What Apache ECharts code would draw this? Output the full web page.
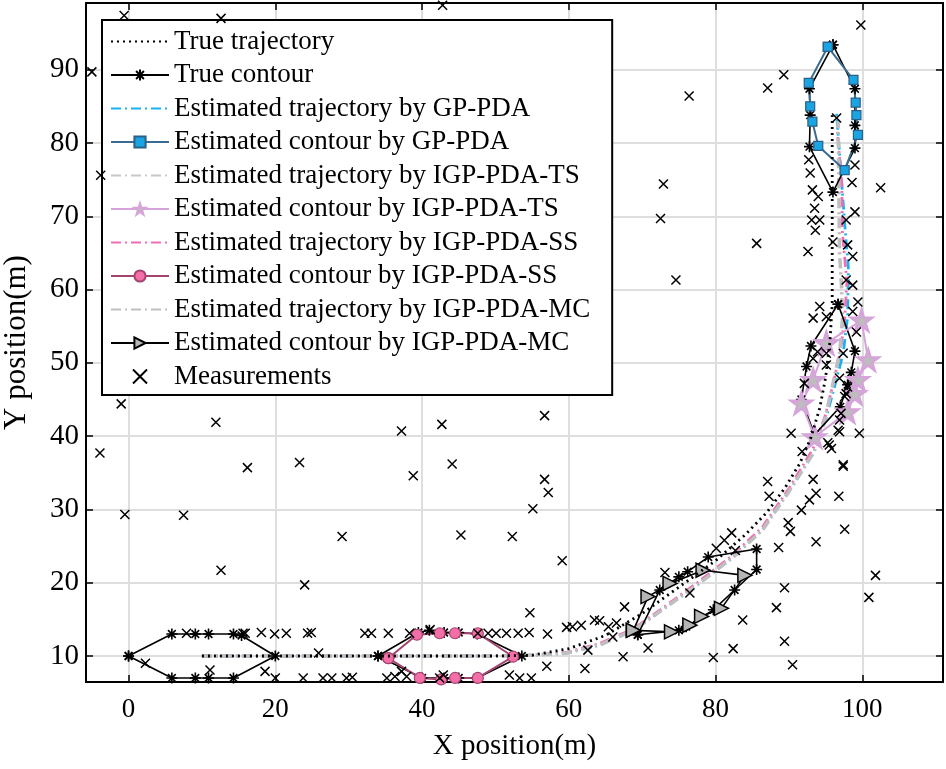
<!DOCTYPE html>
<html><head><meta charset="utf-8">
<script src="https://cdn.jsdelivr.net/npm/echarts@6/dist/echarts.min.js"></script>
<style>html,body{margin:0;padding:0;background:#fff}#c{width:946px;height:769px}</style>
</head><body><div id="c"></div>
<script>
// ---- data ----
const trueTrajectory = [[10,10],[20,10],[30,10],[40,10],[50,10],[55,10.1],[60,11],[65,12.8],[70,15.8],[75,19.4],[80,23],[84,26.5],[87,29.6],[89.5,33],[91.5,36.3],[93,39.8],[94.2,43.8],[95,48],[95.6,53],[95.9,58],[95.9,70],[95.9,83.8]];
const trajGP = [[10,10],[20,10],[30,10],[40,10],[50,10],[55,10.1],[59.7,10.4],[64.2,11.5],[68.8,13.5],[73.3,16.7],[77.9,20],[82.4,23.5],[86.4,27.2],[90.1,32.6],[93.4,37.8],[95,42.2],[96.2,46.7],[97.4,51.3],[98,56.3],[98.1,63],[97.6,69],[97.2,74.5],[96.5,84]];
const trajTS = [[10,10],[20,10],[30,10],[40,10],[50,10],[55,10.1],[59.7,10.4],[64.2,11.5],[68.8,13.5],[73.3,16.7],[77.9,20],[82.4,23.5],[86.4,27.2],[90.1,32.6],[93.4,37.8],[94.9,42.2],[95.9,46.7],[96.9,51.3],[97.2,55.8],[97.1,60],[96.9,65],[96.8,75],[96.8,83]];
const trajSS = [[10,10],[20,10],[30,10],[40,10],[50,10],[55,10.1],[59.7,10.5],[64.2,11.7],[68.8,13.7],[73.3,16.9],[77.9,20.3],[82.4,23.8],[86.4,27.6],[90.1,33],[93.3,38.3],[94.9,42.6],[96,47],[97,51.5],[97.6,56],[97.9,61],[97.3,67.7],[97.2,74.5],[96.6,81.5]];
const trajMC = [[10,10],[20,10],[30,10],[40,10],[50,10],[55,10.1],[59.7,10.4],[64.2,11.5],[68.8,13.5],[73.3,16.7],[77.9,20],[82.4,23.5],[86.4,27.2],[90.1,32.6],[93.4,37.8],[94.9,42.2],[95.9,46.7],[96.9,51.3],[97.3,55.8],[97.2,60],[96.9,65],[96.8,75],[96.7,83]];

const trueContour1 = [[0,10],[5.9,13],[9.1,13],[10.9,13],[14.3,13],[15.4,12.8],[20,10],[14.3,7],[10.9,7],[9.1,7],[5.9,7],[0,10]];
const trueContour2 = [[34,10],[39.5,13.2],[41,13.5],[43,13.2],[45,13.2],[47.5,13],[53.6,10],[47.5,7],[45,7],[43,7],[40,7],[34,10]];
const trueContour3 = [[69.4,12.9],[72.4,19],[75,20.8],[76.2,21.5],[79,23.5],[85.6,24.6],[85.6,21.8],[82.6,19],[79.7,16.3],[76,14],[75,13.5],[69.4,12.9]];
const trueContour4 = [[96.7,58],[99,51.6],[98.5,48.7],[98,47],[97,44],[93.5,40.2],[91.7,45],[92.4,49.5],[93,52.3],[96.7,58]];
const trueContour5 = [[96,93.4],[99,87.4],[99,82.4],[99,79.3],[96,73.3],[92.8,79.5],[92.9,83.8],[92.8,87.4],[96,93.4]];

const contourGP = [[95.3,93.1],[98.8,88.6],[99.1,85.5],[99.2,83.8],[99.4,81.1],[97.6,76.3],[94,79.6],[93.2,82.9],[92.9,85],[92.7,88.2],[95.3,93.1]];
const contourTS = [[95.1,52.7],[99.9,55.8],[100.8,50.4],[99.4,47.7],[99,45.8],[98,43.3],[93.5,39.9],[91.7,44.5],[93.3,47.7],[95.1,52.7]];
const contourSS = [[35.4,9.7],[39.3,12.9],[42.4,13.1],[44.5,13.1],[47.6,13.1],[52.4,9.9],[47.6,7],[44.5,7],[42.6,6.8],[39.7,7],[35.4,9.7]];
const contourMC = [[68.8,13.5],[70.8,18.1],[73.8,19.9],[78.3,21.7],[84,21],[80.8,16.5],[78.1,15.4],[76.5,14.2],[74,13.3],[68.8,13.5]];

const measurements = [
[-0.6,97.4],[12.6,97],[42.8,98.8],[-5,89.7],[-3.8,75.6],[-1,44.4],[-3.9,37.7],[11.9,41.9],[-0.5,29.3],[7.5,29.2],[16.2,35.7],[12.6,21.7],[23.3,36.4],[24,19.7],[29.1,26.3],[37.2,40.7],[38.8,34.6],[42.7,41.6],[44.1,36.2],[45.3,26.5],[52.3,26.3],
[7.9,13.1],[15.6,13.1],[15.9,13.1],[18.1,13.2],[19.9,13],[21.5,13.1],[24.4,13.1],[24.9,13.2],[32.2,13.1],[33.1,13.1],[35.4,13.1],[38.3,13.1],[41.1,13.6],[47.6,13.1],[49,13.1],[50.1,13.1],[51.5,13.1],[53.1,13.1],[54.6,13.2],[57.1,13],[59.7,13.9],[60.5,14],[61.7,14.2],[63.5,14.9],[64.2,14.8],[65.4,14],[66.5,14.5],[67.6,16.7],[66,12.6],[54.7,15.9],
[2.3,9],[25.9,10.4],[67.4,9.9],[62.6,10.8],[70.8,11.1],
[11.1,8.1],[18.6,7.9],[20,7],[23.8,7],[26.5,7],[27.7,7],[29.7,7],[30.5,7.1],[35.2,7],[36.3,7.2],[37.2,7.9],[37.9,7.2],[42.4,7],[42.9,7.4],[51.9,7.4],[53.3,7],[54.9,7],[62.2,8.3],[57,8.6],
[56.7,42.8],[56.7,34.1],[57.2,32.3],[55.1,30.1],[59.1,23],[73.1,21.4],[76.5,18.6],[79.7,9.8],[82.4,11],[83.7,14.9],[82.2,26.8],[81.2,25.8],[80.1,24.7],[82.7,24.4],[87.1,33.8],[87.3,31.8],[88.6,24.8],[89.4,19.3],[88.3,16.6],[89.4,12],[90.5,8.8],[89.9,28.2],[90.2,27],[91.7,29.9],[92.8,31.3],[93.7,32.2],[93.3,34.1],[93.7,25.6],[96.8,31.8],[97.6,27.3],[97.4,35.9],[95.8,38.3],[95.3,39.1],[96.9,40.6],[99.6,40.4],[90.3,40.4],[91.8,37.9],[97.1,43.1],[97.8,45.8],[101.8,21],[100.9,18],
[99.8,96.1],[89.3,89.3],[87.1,87.5],[76.4,86.4],[72.9,74.4],[72.5,69.7],[85.6,66.3],[74.6,61.3],[102.5,73.9],[96.5,83.4],
[92.7,77.7],[92.9,75.9],[93.2,73.6],[94,72.7],[93.5,71.1],[93.1,69.5],[94.2,69.5],[93.6,68.1],[92.6,65.2],[96,66.5],[97.8,69.5],[99,70.6],[98,66.1],[98.7,64.5],[97.8,61.3],[98.7,60.6],[99,77],[98.6,74.6],[94.2,57.7],[93.3,56.1],[99.4,58.3],[98.7,57],[99.2,54.2],[93.3,50.6],[95.1,49.7],[97.4,51.3],[96.9,47.9],[92.1,47.2],[98,46.7],[95.1,56.3],[93.9,51.5],[95.1,51.3],[96.9,42.2],[96.7,40.8],[95.5,38.8],[97.4,36.1],[97.6,45.4]
];

const legendNames = ['True trajectory','True contour','Estimated trajectory by GP-PDA','Estimated contour by GP-PDA','Estimated trajectory by IGP-PDA-TS','Estimated contour by IGP-PDA-TS','Estimated trajectory by IGP-PDA-SS','Estimated contour by IGP-PDA-SS','Estimated trajectory by IGP-PDA-MC','Estimated contour by IGP-PDA-MC','Measurements'];
const xTickLabels = [0,20,40,60,80,100];
const yTickLabels = [10,20,30,40,50,60,70,80,90];

// ---- styles ----
const FONT = 'Liberation Serif';
const ASTER = 'path://M5,0L5,10M0,5L10,5M1.5,1.5L8.5,8.5M8.5,1.5L1.5,8.5';
const CROSS = 'path://M0,0L10,10M10,0L0,10';
const STAR = 'path://M10,0L12.25,6.91L19.51,6.91L13.63,11.18L15.88,18.09L10,13.82L4.12,18.09L6.37,11.18L0.49,6.91L7.75,6.91Z';
const TRI = 'path://M0,0L10,5L0,10Z';
const DASHDOT = [10,4,2,4];

function traj(name, data, color, width, z) {
  return {name, type:'line', data, showSymbol:false, symbol:'none', z: z||2,
    lineStyle:{color, width, type: DASHDOT}, itemStyle:{color}, emphasis:{disabled:true}};
}
function contour(name, data, lineColor, lw, symbol, size, fill, border, bw, z) {
  return {name, type:'line', data, symbol, symbolSize:size, showSymbol:true, z: z||3,
    lineStyle:{color:lineColor, width:lw}, itemStyle:{color:fill, borderColor:border, borderWidth:bw, opacity:1},
    emphasis:{disabled:true}};
}

const series = [
  {name:legendNames[0], type:'line', data:trueTrajectory, symbol:'none', showSymbol:false, z:4,
   lineStyle:{color:'#000', width:2.8, type:[2,4]}, itemStyle:{color:'#000'}, emphasis:{disabled:true}},
];
[trueContour1,trueContour2,trueContour3,trueContour4,trueContour5].forEach(d=>{
  series.push(contour(legendNames[1], d, '#000', 1.6, ASTER, 11, '#000', '#000', 1.6, 3));
});
series.push(traj(legendNames[2], trajGP, '#1ab2ee', 2.8, 2));
series.push(contour(legendNames[3], contourGP, '#3a6b91', 2, 'rect', 9, '#1ba4e2', '#2b5f88', 1.2, 3));
series.push(traj(legendNames[4], trajTS, '#c8c8c8', 1.6, 2));
series.push(contour(legendNames[5], contourTS, '#d6a3da', 2, STAR, 21, '#bdbdbd', '#d6a3da', 2.5, 3));
series.push(traj(legendNames[6], trajSS, '#f06eb4', 2.8, 2));
series.push(contour(legendNames[7], contourSS, '#a3446f', 2, 'circle', 11, '#f46ea8', '#a3446f', 1.2, 3));
series.push(traj(legendNames[8], trajMC, '#bfbfbf', 3.6, 2));
series.push(contour(legendNames[9], contourMC, '#000', 1.6, TRI, 14, '#b5b5b5', '#000', 1.5, 3));
series.push({name:legendNames[10], type:'scatter', data:measurements, symbol:CROSS, symbolSize:9, z:5,
  itemStyle:{color:'#000', borderColor:'#000', borderWidth:1.5, opacity:1}, emphasis:{disabled:true}});

function fmt(list){ return v => list.indexOf(Math.round(v*1000)/1000) >= 0 ? String(v) : ''; }

const axisCommon = {
  axisLine:{show:true, onZero:false, lineStyle:{color:'#000', width:2}},
  axisTick:{show:true, inside:true, length:7, lineStyle:{color:'#000', width:1.5}},
};

const hiddenSym = {color:'rgba(0,0,0,0)', borderColor:'rgba(0,0,0,0)', borderWidth:0, opacity:0};
const legendData = legendNames.map((n, i) =>
  (i === 0 || i === 2 || i === 4 || i === 6 || i === 8) ? {name:n, itemStyle:hiddenSym} : {name:n});

const option = {
  animation:false,
  backgroundColor:'#fff',
  grid:{left:86, right:3, top:3, bottom:87, containLabel:false, outerBoundsMode:'none'},
  legend:{
    data: legendData, orient:'vertical', left:102, top:20,
    backgroundColor:'#fff', borderColor:'#000', borderWidth:2,
    padding:[8,22,5,8], itemGap:6.5, itemWidth:58, itemHeight:14,
    textStyle:{fontFamily:FONT, fontSize:27, color:'#000', lineHeight:27},
    selectedMode:false
  },
  xAxis:[
    Object.assign({type:'value', position:'bottom', min:-5.8, max:111, splitNumber:6,
      name:'X position(m)', nameLocation:'middle', nameGap:50,
      nameTextStyle:{fontFamily:FONT, fontSize:29, color:'#000'},
      axisLabel:{fontFamily:FONT, fontSize:27, color:'#000', margin:14, showMinLabel:false, showMaxLabel:false, formatter:fmt(xTickLabels)},
      splitLine:{show:true, lineStyle:{color:'#dedede', width:2}}}, axisCommon),
    Object.assign({type:'value', position:'top', min:-5.8, max:111, splitNumber:6,
      axisLabel:{show:false}, splitLine:{show:false}}, axisCommon)
  ],
  yAxis:[
    Object.assign({type:'value', position:'left', min:6.45, max:99.1, splitNumber:9,
      name:'Y position(m)', nameLocation:'middle', nameGap:54, nameRotate:90,
      nameTextStyle:{fontFamily:FONT, fontSize:31, color:'#000'},
      axisLabel:{fontFamily:FONT, fontSize:29, color:'#000', margin:7, showMinLabel:false, showMaxLabel:false, formatter:fmt(yTickLabels)},
      splitLine:{show:true, lineStyle:{color:'#dedede', width:2}}}, axisCommon),
    Object.assign({type:'value', position:'right', min:6.45, max:99.1, splitNumber:9,
      axisLabel:{show:false}, splitLine:{show:false}}, axisCommon)
  ],
  series
};
const chart = echarts.init(document.getElementById('c'), null, {renderer:'canvas'});
chart.setOption(option);
</script>
</body></html>
